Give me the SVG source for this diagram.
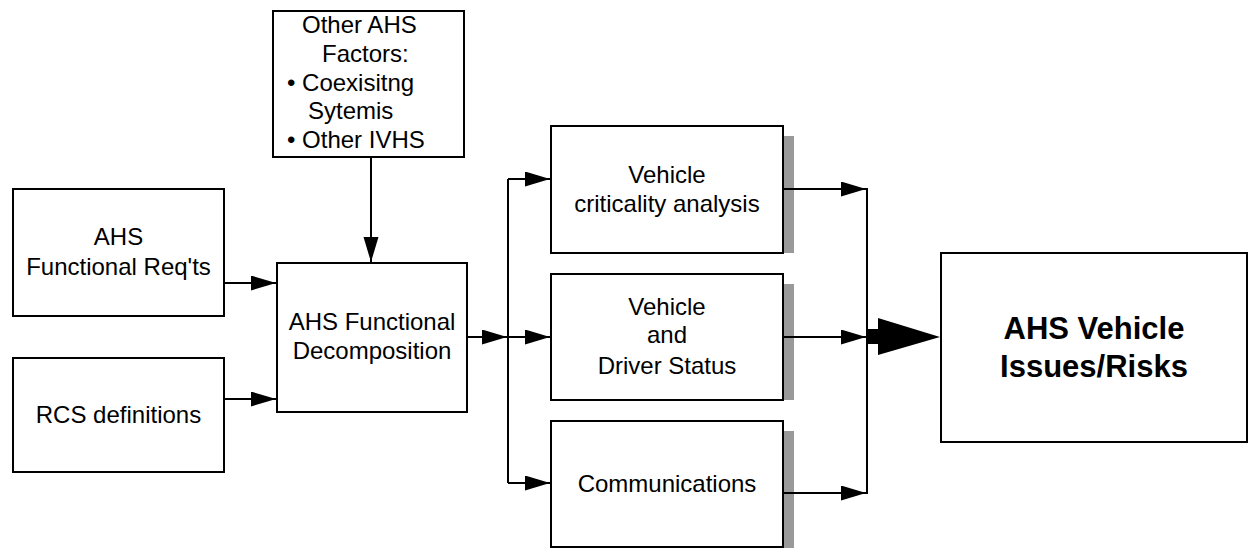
<svg xmlns="http://www.w3.org/2000/svg" width="1249" height="548" viewBox="0 0 1249 548">
<style>
.box{fill:#fff;stroke:#000;stroke-width:2}
.sh{fill:#999;stroke:none}
.t{font-family:"Liberation Sans",Arial,sans-serif;font-size:24px;fill:#000;text-anchor:middle}
.ts{font-family:"Liberation Sans",Arial,sans-serif;font-size:24px;fill:#000}
.tb{font-family:"Liberation Sans",Arial,sans-serif;font-size:31px;font-weight:bold;fill:#000;text-anchor:middle}
.c{fill:none;stroke:#000;stroke-width:2}
</style>
<defs>
<marker id="ah" markerUnits="userSpaceOnUse" markerWidth="26" markerHeight="16" refX="25" refY="7.5" orient="auto">
<path d="M0,0 L25,7.5 L0,15 z" fill="#000"/>
</marker>
</defs>
<rect width="1249" height="548" fill="#fff"/>
<g id="other-factors">
<rect class="box" x="273" y="11" width="191" height="146"/>
<text class="ts" x="302" y="33">Other AHS</text>
<text class="ts" x="322" y="62">Factors:</text>
<text class="ts" x="287" y="91">• Coexisitng</text>
<text class="ts" x="308" y="119">Sytemis</text>
<text class="ts" x="287" y="148">• Other IVHS</text>
</g>
<g id="functional-reqs">
<rect class="box" x="13" y="189" width="211" height="127"/>
<text class="t" x="118.5" y="245">AHS</text>
<text class="t" x="118.5" y="275">Functional Req'ts</text>
</g>
<g id="rcs-definitions">
<rect class="box" x="13" y="358" width="211" height="114"/>
<text class="t" x="118.5" y="423">RCS definitions</text>
</g>
<g id="functional-decomposition">
<rect class="box" x="277" y="263" width="190" height="149"/>
<text class="t" x="372" y="330">AHS Functional</text>
<text class="t" x="372" y="359">Decomposition</text>
</g>
<g id="criticality-analysis">
<rect class="sh" x="784" y="136" width="10" height="117"/>
<rect class="box" x="551" y="126" width="232" height="127"/>
<text class="t" x="667" y="183">Vehicle</text>
<text class="t" x="667" y="212">criticality analysis</text>
</g>
<g id="driver-status">
<rect class="sh" x="784" y="284" width="10" height="116"/>
<rect class="box" x="551" y="274" width="232" height="126"/>
<text class="t" x="667" y="315">Vehicle</text>
<text class="t" x="667" y="343">and</text>
<text class="t" x="667" y="374">Driver Status</text>
</g>
<g id="communications">
<rect class="sh" x="784" y="431" width="10" height="117"/>
<rect class="box" x="551" y="421" width="232" height="126"/>
<text class="t" x="667" y="492">Communications</text>
</g>
<g id="issues-risks">
<rect class="box" x="941" y="253" width="306" height="189"/>
<text class="tb" x="1094" y="339">AHS Vehicle</text>
<text class="tb" x="1094" y="377">Issues/Risks</text>
</g>
<g id="connectors">
<path class="c" d="M371,157 V262" marker-end="url(#ah)"/>
<path class="c" d="M224,283 H276" marker-end="url(#ah)"/>
<path class="c" d="M224,399 H276" marker-end="url(#ah)"/>
<path class="c" d="M467,337 H507" marker-end="url(#ah)"/>
<path class="c" d="M508,179 V483"/>
<path class="c" d="M508,179 H550" marker-end="url(#ah)"/>
<path class="c" d="M508,337 H550" marker-end="url(#ah)"/>
<path class="c" d="M508,483 H550" marker-end="url(#ah)"/>
<path class="c" d="M784,189 H866" marker-end="url(#ah)"/>
<path class="c" d="M784,337 H866" marker-end="url(#ah)"/>
<path class="c" d="M784,493 H866" marker-end="url(#ah)"/>
<path class="c" d="M867,188 V494"/>
<path d="M867,329 H878 V318 L940,337 L878,355 V344 H867 z" fill="#000"/>
</g>
</svg>
